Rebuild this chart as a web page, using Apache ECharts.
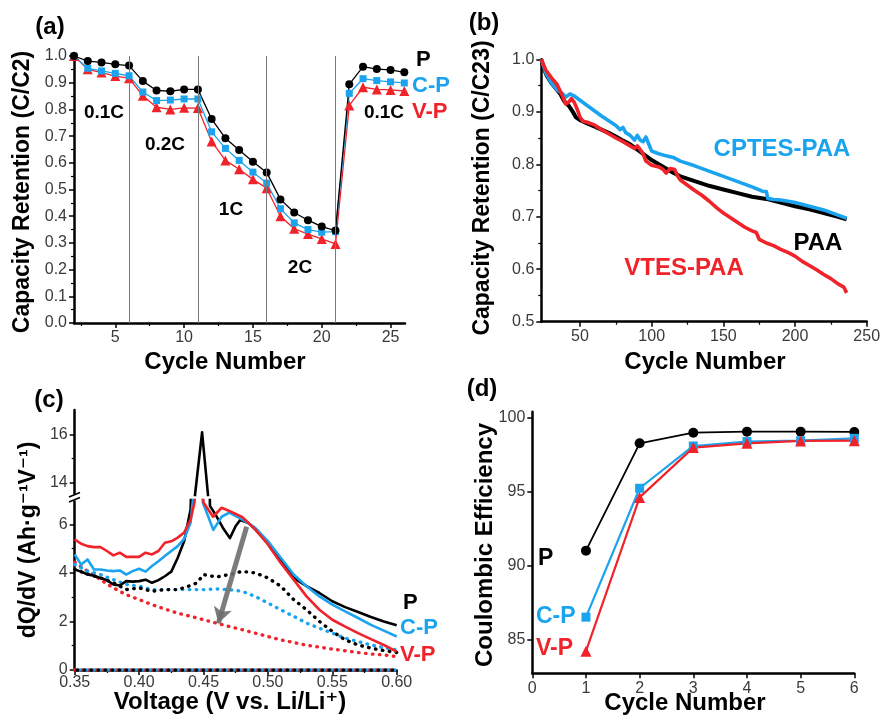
<!DOCTYPE html>
<html>
<head>
<meta charset="utf-8">
<script src="https://cdn.jsdelivr.net/npm/echarts@6/dist/echarts.min.js"></script>
<style>
  html, body { margin: 0; padding: 0; background: #fff; }
  #chart { width: 884px; height: 717px; }
</style>
</head>
<body>
<div id="chart"></div>
<script>
// ---------- (a) rate capability ----------
const cyclesA = [2,3,4,5,6,7,8,9,10,11,12,13,14,15,16,17,18,19,20,21,22,23,24,25,26];
const retentionP  = [1.000,0.981,0.976,0.969,0.964,0.906,0.871,0.868,0.875,0.875,0.764,0.692,0.648,0.604,0.564,0.463,0.414,0.385,0.361,0.346,0.894,0.960,0.951,0.948,0.939];
const retentionCP = [1.000,0.954,0.944,0.935,0.926,0.865,0.833,0.835,0.839,0.839,0.716,0.654,0.609,0.565,0.524,0.428,0.375,0.350,0.340,0.342,0.860,0.915,0.908,0.903,0.899];
const retentionVP = [1.000,0.950,0.938,0.925,0.917,0.851,0.808,0.800,0.806,0.805,0.680,0.609,0.576,0.538,0.505,0.400,0.353,0.333,0.315,0.296,0.815,0.883,0.875,0.873,0.869];
const rateBoundaries = [6, 11, 16, 21];
const cycleTicksA = [5, 10, 15, 20, 25];
const cycleMinorA = [2.5, 7.5, 12.5, 17.5, 22.5];

// ---------- (b) long-term cycling [cycle, C/C23] ----------
const paaCurve = [[23,1.0],[25,0.98],[27,0.968],[30,0.955],[33,0.945],[36,0.935],[39,0.92],[42,0.912],[45,0.9],[47,0.89],[50,0.884],[55,0.878],[60,0.872],[65,0.866],[70,0.86],[75,0.853],[80,0.845],[85,0.838],[90,0.828],[95,0.818],[100,0.808],[105,0.8],[110,0.792],[115,0.784],[120,0.777],[130,0.768],[140,0.759],[150,0.752],[160,0.745],[170,0.738],[180,0.734],[190,0.727],[200,0.72],[210,0.714],[220,0.707],[230,0.7],[236,0.695]];
const cptesCurve = [[23,1.0],[26,0.975],[30,0.955],[34,0.942],[38,0.934],[40,0.928],[43,0.934],[46,0.93],[50,0.922],[55,0.912],[60,0.902],[65,0.892],[70,0.883],[75,0.874],[78,0.866],[80,0.87],[82,0.86],[85,0.855],[88,0.846],[90,0.855],[92,0.846],[94,0.843],[96,0.852],[98,0.838],[100,0.825],[105,0.82],[110,0.816],[115,0.813],[120,0.806],[130,0.797],[140,0.787],[150,0.777],[160,0.767],[170,0.757],[178,0.748],[180,0.748],[181,0.735],[185,0.733],[190,0.732],[200,0.727],[210,0.72],[220,0.713],[230,0.703],[236,0.697]];
const vtesCurve = [[23,1.0],[26,0.98],[30,0.965],[34,0.952],[37,0.935],[39,0.922],[40,0.915],[42,0.918],[44,0.925],[46,0.918],[48,0.905],[50,0.89],[52,0.882],[55,0.88],[60,0.875],[65,0.866],[70,0.858],[75,0.85],[80,0.843],[85,0.835],[88,0.83],[90,0.835],[92,0.828],[94,0.82],[96,0.806],[100,0.798],[105,0.795],[108,0.79],[110,0.783],[113,0.792],[116,0.79],[118,0.778],[120,0.77],[125,0.76],[130,0.75],[135,0.741],[140,0.73],[145,0.718],[150,0.707],[155,0.698],[160,0.689],[165,0.68],[170,0.673],[173,0.67],[175,0.657],[180,0.65],[185,0.645],[190,0.638],[195,0.632],[200,0.625],[205,0.615],[210,0.607],[215,0.599],[220,0.59],[225,0.582],[230,0.572],[234,0.566],[236,0.555]];
const cycleTicksB = [50, 100, 150, 200, 250];
const cycleMinorB = [75, 125, 175, 225];

// ---------- (c) differential capacity [V, dQ/dV] ----------
const dqdvP = [[0.350,4.14],[0.355,4.05],[0.360,3.93],[0.365,3.88],[0.370,3.79],[0.375,3.70],[0.380,3.52],[0.385,3.48],[0.390,3.66],[0.395,3.64],[0.400,3.66],[0.405,3.72],[0.410,3.59],[0.415,3.70],[0.420,3.86],[0.425,4.05],[0.430,4.62],[0.435,5.31],[0.440,6.62],[0.4434,13.5],[0.4489,16.08],[0.4535,13.5],[0.4550,6.76],[0.460,6.34],[0.465,5.86],[0.4705,5.43],[0.475,5.93],[0.4785,6.18],[0.485,6.05],[0.490,5.80],[0.500,5.24],[0.510,4.55],[0.520,3.79],[0.530,3.45],[0.540,3.17],[0.550,2.83],[0.560,2.59],[0.570,2.39],[0.580,2.18],[0.590,2.00],[0.600,1.84]];
const dqdvCP = [[0.350,4.76],[0.355,4.34],[0.360,4.55],[0.365,4.14],[0.370,4.14],[0.375,4.10],[0.380,4.07],[0.385,4.10],[0.390,3.93],[0.395,4.07],[0.400,4.17],[0.405,4.05],[0.410,4.28],[0.415,4.48],[0.420,4.69],[0.425,4.90],[0.430,5.10],[0.435,5.40],[0.440,6.07],[0.4455,9.0],[0.4495,6.9],[0.4576,5.77],[0.4641,6.31],[0.470,6.48],[0.480,6.20],[0.490,5.86],[0.500,5.31],[0.510,4.62],[0.520,3.93],[0.530,3.45],[0.540,3.03],[0.550,2.69],[0.560,2.41],[0.570,2.14],[0.580,1.86],[0.590,1.62],[0.600,1.38]];
const dqdvVP = [[0.350,5.38],[0.355,5.20],[0.360,5.10],[0.365,5.06],[0.370,5.06],[0.375,4.90],[0.380,4.72],[0.385,4.83],[0.390,4.66],[0.395,4.66],[0.400,4.66],[0.405,4.83],[0.410,4.76],[0.415,4.90],[0.420,5.24],[0.425,5.30],[0.430,5.45],[0.435,5.66],[0.440,6.20],[0.443,6.9],[0.4465,9.5],[0.4500,6.9],[0.4574,6.31],[0.4641,6.68],[0.470,6.55],[0.480,6.30],[0.490,5.80],[0.500,5.17],[0.510,4.41],[0.520,3.72],[0.530,3.03],[0.540,2.48],[0.550,2.07],[0.560,1.79],[0.570,1.52],[0.580,1.27],[0.590,1.03],[0.600,0.76]];
const dqdvPLater = [[0.350,4.14],[0.360,3.95],[0.370,3.79],[0.380,3.59],[0.390,3.31],[0.400,3.38],[0.410,3.24],[0.420,3.31],[0.430,3.31],[0.440,3.48],[0.445,3.59],[0.450,3.93],[0.460,3.83],[0.470,3.93],[0.480,4.06],[0.490,4.00],[0.500,3.79],[0.510,3.45],[0.520,2.90],[0.530,2.48],[0.540,2.00],[0.550,1.59],[0.560,1.24],[0.570,1.03],[0.580,0.90],[0.590,0.80],[0.600,0.72]];
const dqdvCPLater = [[0.350,4.34],[0.360,4.07],[0.370,3.93],[0.380,3.72],[0.390,3.52],[0.400,3.45],[0.410,3.31],[0.420,3.31],[0.430,3.31],[0.440,3.31],[0.450,3.31],[0.460,3.34],[0.470,3.31],[0.480,3.24],[0.490,3.03],[0.500,2.76],[0.510,2.48],[0.520,2.21],[0.530,1.93],[0.540,1.72],[0.550,1.52],[0.560,1.31],[0.570,1.17],[0.580,1.03],[0.590,0.92],[0.600,0.83]];
const dqdvVPLater = [[0.350,4.44],[0.360,4.07],[0.370,3.72],[0.380,3.38],[0.390,3.10],[0.400,2.90],[0.410,2.69],[0.420,2.51],[0.430,2.34],[0.440,2.21],[0.450,2.07],[0.460,1.93],[0.470,1.79],[0.480,1.66],[0.490,1.52],[0.500,1.38],[0.510,1.24],[0.520,1.13],[0.530,1.02],[0.540,0.94],[0.550,0.86],[0.560,0.79],[0.570,0.72],[0.580,0.66],[0.590,0.62],[0.600,0.55]];
const dqdvBaseline = [[0.350,0],[0.600,0]];
const fadeArrow = [[0.4835,5.90],[0.4615,1.92]];
const dqdvTicksLow = [0, 2, 4, 6];
const dqdvMinorLow = [1, 3, 5];
const dqdvTicksHigh = [14, 16];
const dqdvMinorHigh = [15];

// ---------- (d) coulombic efficiency ----------
const cyclesD = [1, 2, 3, 4, 5, 6];
const ceP  = [91.0, 98.26, 98.98, 99.05, 99.05, 99.03];
const ceCP = [86.5, 95.22, 98.08, 98.38, 98.44, 98.60];
const ceVP = [84.2, 94.60, 97.97, 98.26, 98.42, 98.44];
const ceTicks = [85, 90, 95, 100];

// ---------- style ----------
const FONT = 'Arial, "Liberation Sans", "DejaVu Sans", sans-serif';
const BLACK = '#000000';
const BLUE = '#1aa3ee';
const RED = '#f0232a';
const LABEL = '#3a3a3a';

const zip = (xs, ys) => xs.map((x, i) => [x, ys[i]]);

function mainAxis(o) {
  return {
    type: 'value',
    gridIndex: o.grid,
    min: o.min, max: o.max,
    interval: o.interval,
    position: o.position,
    show: o.show !== false,
    axisLine: { show: true, onZero: false, lineStyle: { color: BLACK, width: 2.5 } },
    axisTick: Object.assign({ show: true, inside: false, length: 5, lineStyle: { color: BLACK, width: 1.5 } },
      o.ticks ? { customValues: o.ticks } : {}),
    minorTick: o.minor ? { show: true, splitNumber: 2, length: 3, lineStyle: { color: BLACK, width: 1.2 } } : { show: false },
    axisLabel: Object.assign({ color: LABEL, fontSize: 16, fontWeight: 'normal', fontFamily: FONT, margin: o.margin || 7, formatter: o.fmt },
      o.ticks ? { customValues: o.ticks } : {}),
    splitLine: { show: false },
    minorSplitLine: { show: false }
  };
}
function minorAxis(o) {
  return {
    type: 'value',
    gridIndex: o.grid,
    min: o.min, max: o.max,
    position: o.position,
    axisLine: { show: false, onZero: false },
    axisTick: { show: true, inside: false, length: 3, customValues: o.ticks, lineStyle: { color: BLACK, width: 1.2 } },
    axisLabel: { show: false },
    splitLine: { show: false }
  };
}

const f1 = v => v.toFixed(1);
const f2 = v => v.toFixed(2);

const grids = [
  { left: 74, top: 56, width: 331, height: 267 },           // (a)
  { left: 541.3, top: 59.3, width: 325.4, height: 262.4 },  // (b)
  { left: 74.7, top: 500, width: 322, height: 170 },        // (c) lower part
  { left: 74.7, top: 410, width: 322, height: 85 },         // (c) upper part
  { left: 532.3, top: 411.7, width: 322, height: 261.6 }    // (d)
];

const xAxes = [
  mainAxis({ grid: 0, min: 2, max: 26.05, ticks: cycleTicksA, position: 'bottom' }),
  minorAxis({ grid: 0, min: 2, max: 26.05, ticks: cycleMinorA, position: 'bottom' }),
  mainAxis({ grid: 1, min: 23, max: 250, ticks: cycleTicksB, position: 'bottom' }),
  minorAxis({ grid: 1, min: 23, max: 250, ticks: cycleMinorB, position: 'bottom' }),
  mainAxis({ grid: 2, min: 0.35, max: 0.60, interval: 0.05, minor: true, fmt: f2, position: 'bottom', margin: 5 }),
  mainAxis({ grid: 3, min: 0.35, max: 0.60, show: false, position: 'bottom' }),
  mainAxis({ grid: 4, min: 0, max: 6, interval: 1, position: 'bottom' })
];
const yAxes = [
  mainAxis({ grid: 0, min: 0, max: 1, interval: 0.1, minor: true, fmt: f1, position: 'left' }),
  mainAxis({ grid: 1, min: 0.5, max: 1, interval: 0.1, minor: true, fmt: f1, position: 'left' }),
  mainAxis({ grid: 2, min: 0, max: 7, ticks: dqdvTicksLow, position: 'left' }),
  minorAxis({ grid: 2, min: 0, max: 7, ticks: dqdvMinorLow, position: 'left' }),
  mainAxis({ grid: 3, min: 13.5, max: 17, ticks: dqdvTicksHigh, position: 'left' }),
  minorAxis({ grid: 3, min: 13.5, max: 17, ticks: dqdvMinorHigh, position: 'left' }),
  mainAxis({ grid: 4, min: 82.7, max: 100.4, ticks: ceTicks, position: 'left' })
];

function markerLine(xi, yi, data, color, symbol, size, width) {
  return {
    type: 'line', xAxisIndex: xi, yAxisIndex: yi, data,
    symbol, symbolSize: size, showSymbol: true,
    itemStyle: { color }, lineStyle: { color, width },
    silent: true, animation: false
  };
}
function plainLine(xi, yi, data, color, width, dotted, offset) {
  return {
    type: 'line', xAxisIndex: xi, yAxisIndex: yi, data,
    showSymbol: false, symbol: 'none',
    lineStyle: dotted
      ? { color, width: 3.4, type: [0.5, 6.5], cap: 'round', dashOffset: offset || 0 }
      : { color, width, join: 'round' },
    silent: true, animation: false
  };
}

const series = [
  // (a)
  Object.assign(markerLine(0, 0, zip(cyclesA, retentionVP), RED, 'triangle', 10, 1.3), {
    markLine: {
      silent: true, symbol: 'none', animation: false,
      label: { show: false },
      lineStyle: { color: '#7a7a7a', width: 1, type: 'solid' },
      data: rateBoundaries.map(c => ({ xAxis: c }))
    }
  }),
  markerLine(0, 0, zip(cyclesA, retentionCP), BLUE, 'rect', 7, 1.3),
  markerLine(0, 0, zip(cyclesA, retentionP), BLACK, 'circle', 8, 1.3),
  // (b)
  plainLine(2, 1, paaCurve, BLACK, 4),
  plainLine(2, 1, cptesCurve, BLUE, 3.6),
  plainLine(2, 1, vtesCurve, RED, 3.6),
  // (c) lower part
  plainLine(4, 2, dqdvBaseline, RED, 0, true, 0),
  plainLine(4, 2, dqdvBaseline, BLUE, 0, true, 2.3),
  plainLine(4, 2, dqdvBaseline, BLACK, 0, true, 4.6),
  plainLine(4, 2, dqdvVPLater, RED, 0, true, 0),
  plainLine(4, 2, dqdvCPLater, BLUE, 0, true, 0),
  plainLine(4, 2, dqdvPLater, BLACK, 0, true, 0),
  plainLine(4, 2, dqdvP, BLACK, 2.6),
  plainLine(4, 2, dqdvCP, BLUE, 2.6),
  Object.assign(plainLine(4, 2, dqdvVP, RED, 2.6), {
    markLine: {
      silent: true, animation: false,
      symbol: ['none', 'arrow'], symbolSize: [14, 16],
      label: { show: false },
      lineStyle: { color: '#6e6e6e', width: 5, type: 'solid', opacity: 0.9 },
      data: [[{ coord: fadeArrow[0] }, { coord: fadeArrow[1] }]]
    }
  }),
  // (c) upper part
  plainLine(5, 4, dqdvP, BLACK, 2.6),
  // (d)
  markerLine(6, 6, zip(cyclesD, ceP), BLACK, 'circle', 10, 1.8),
  markerLine(6, 6, zip(cyclesD, ceCP), BLUE, 'rect', 9, 2.2),
  markerLine(6, 6, zip(cyclesD, ceVP), RED, 'triangle', 11, 2.2)
];

function txt(x, y, text, size, color, align, rot) {
  return {
    type: 'text', x, y, rotation: rot || 0, silent: true, z: 100,
    style: {
      text, fill: color || BLACK,
      font: 'bold ' + size + 'px ' + FONT,
      align: align || 'center', verticalAlign: 'middle'
    }
  };
}
const UP = Math.PI / 2;

const graphic = [
  // panel tags
  txt(50, 27, '(a)', 24), txt(484, 23, '(b)', 24), txt(49, 400, '(c)', 24), txt(482, 389, '(d)', 24),
  // axis titles
  txt(225, 362, 'Cycle Number', 24), txt(705, 362, 'Cycle Number', 24),
  txt(230, 702, 'Voltage (V vs. Li/Li\u207A)', 24), txt(685, 703, 'Cycle Number', 24),
  txt(23, 192, 'Capacity Retention (C/C2)', 23, BLACK, 'center', UP),
  txt(483, 188, 'Capacity Retention (C/C23)', 23, BLACK, 'center', UP),
  txt(29, 540, 'dQ/dV (Ah\u00B7g\u207B\u00B9V\u207B\u00B9)', 23, BLACK, 'center', UP),
  txt(485, 545, 'Coulombic Efficiency', 24, BLACK, 'center', UP),
  // (a) annotations
  txt(104, 113, '0.1C', 19), txt(165, 145, '0.2C', 19), txt(231, 210, '1C', 19),
  txt(300, 268, '2C', 19), txt(384, 113, '0.1C', 19),
  txt(416, 60, 'P', 22, BLACK, 'left'), txt(412, 86, 'C-P', 22, BLUE, 'left'), txt(412, 112, 'V-P', 22, RED, 'left'),
  // (b) annotations
  txt(782, 149, 'CPTES-PAA', 24, BLUE), txt(818, 243, 'PAA', 24, BLACK), txt(684, 268, 'VTES-PAA', 24, RED),
  // (c) annotations
  txt(403, 603, 'P', 22, BLACK, 'left'), txt(400, 628, 'C-P', 22, BLUE, 'left'), txt(400, 655, 'V-P', 22, RED, 'left'),
  // (d) annotations
  txt(538, 559, 'P', 23, BLACK, 'left'), txt(536, 617, 'C-P', 23, BLUE, 'left'), txt(536, 649, 'V-P', 23, RED, 'left'),
  // y-axis break marks for (c)
  { type: 'rect', silent: true, z: 99, shape: { x: 71, y: 494.5, width: 8, height: 6 }, style: { fill: '#fff' } },
  { type: 'line', silent: true, z: 100, shape: { x1: 69, y1: 497, x2: 80, y2: 492.5 }, style: { stroke: BLACK, lineWidth: 1.6 } },
  { type: 'line', silent: true, z: 100, shape: { x1: 69, y1: 502, x2: 80, y2: 497.5 }, style: { stroke: BLACK, lineWidth: 1.6 } }
];

const chart = echarts.init(document.getElementById('chart'), null, { renderer: 'canvas' });
chart.setOption({
  backgroundColor: '#ffffff',
  animation: false,
  textStyle: { fontFamily: FONT },
  grid: grids,
  xAxis: xAxes,
  yAxis: yAxes,
  series,
  graphic
});
</script>
</body>
</html>
